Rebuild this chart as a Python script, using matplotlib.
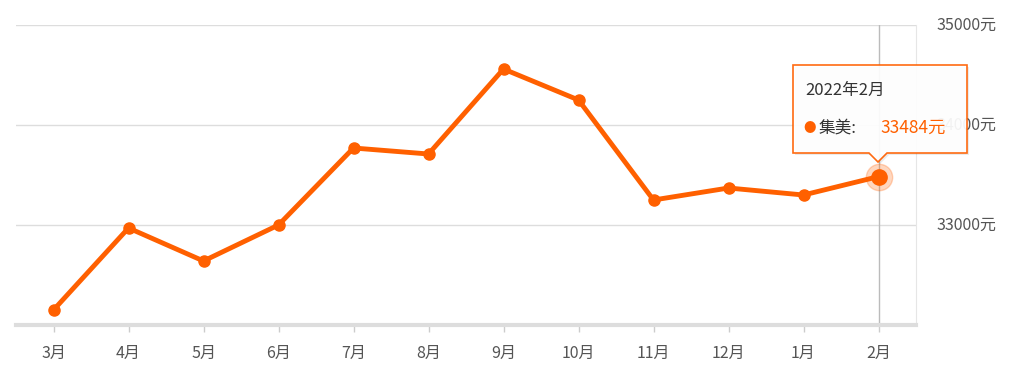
import numpy as np
import matplotlib.pyplot as plt
from matplotlib.patches import Polygon

plt.rcParams['font.family'] = ['Noto Sans CJK SC', 'DejaVu Sans']

months = ['3月', '4月', '5月', '6月', '7月', '8月', '9月', '10月', '11月', '12月', '1月', '2月']
prices = [32150, 32970, 32640, 33000, 33770, 33710, 34560, 34250, 33250, 33370, 33300, 33484]
yticks = [33000, 34000, 35000]
ylabels = ['33000元', '34000元', '35000元']

orange = '#ff6000'
W, H = 1009, 367
fig = plt.figure(figsize=(W / 100, H / 100), dpi=100)
ax = fig.add_axes([16 / W, (H - 325) / H, 900 / W, 300 / H])

x = np.arange(len(months))
ax.set_xlim(-0.5, len(months) - 0.5)
ax.set_ylim(32000, 35000)

for t in yticks:
    ax.axhline(t, color='#dddddd', lw=1, zorder=0)
ax.axvline(len(months) - 1, color='#bbbbbb', lw=1, zorder=1)

ax.plot(x, prices, color=orange, lw=3.5, marker='o', ms=8, zorder=3)
ax.plot(x[-1], prices[-1], 'o', color=orange, ms=19, alpha=0.25, zorder=2)
ax.plot(x[-1], prices[-1], 'o', color=orange, ms=11, zorder=4)

for s in ['top', 'left']:
    ax.spines[s].set_visible(False)
ax.spines['right'].set_color('#e6e6e6')
ax.spines['bottom'].set_color('#dddddd')
ax.spines['bottom'].set_linewidth(3)

ax.set_xticks(x)
ax.set_xticklabels(months)
ax.set_yticks(yticks)
ax.set_yticklabels(ylabels)
ax.yaxis.tick_right()
ax.tick_params(axis='x', colors='#cccccc', length=5, width=1, labelcolor='#555555',
               labelsize=11.5, pad=9)
ax.tick_params(axis='y', length=0, labelcolor='#555555', labelsize=11.5, pad=15)
for lbl in ax.get_yticklabels():
    lbl.set_va('center')

# tooltip
def px(xp, yp):
    return fig.transFigure.inverted().transform(
        fig.dpi_scale_trans.transform((xp / 100, (H - yp) / 100)))

l, r, t, b, tip = 793, 967, 65, 153, 878
pts = [px(l, t), px(r, t), px(r, b), px(tip + 9, b), px(tip, b + 9),
       px(tip - 9, b), px(l, b)]
shadow = Polygon([(p[0] + 2 / W, p[1] - 2 / H) for p in pts], closed=True,
                 transform=fig.transFigure, fc='#000000', alpha=0.08, ec='none', zorder=5)
box = Polygon(pts, closed=True, transform=fig.transFigure, fc='white', alpha=0.93,
              ec=orange, lw=1.2, zorder=6)
fig.add_artist(shadow)
fig.add_artist(box)

fig.text(*px(805, 90), '2022年2月', fontsize=12, color='#333333', va='center', zorder=7)
fig.text(*px(803, 128), '●', fontsize=9, color=orange, va='center', zorder=7)
fig.text(*px(819, 128), '集美:', fontsize=12, color='#333333', va='center', zorder=7)
fig.text(*px(880, 128), '33484元', fontsize=12.5, color=orange, va='center', zorder=7)

fig.savefig('out.png', dpi=100)
